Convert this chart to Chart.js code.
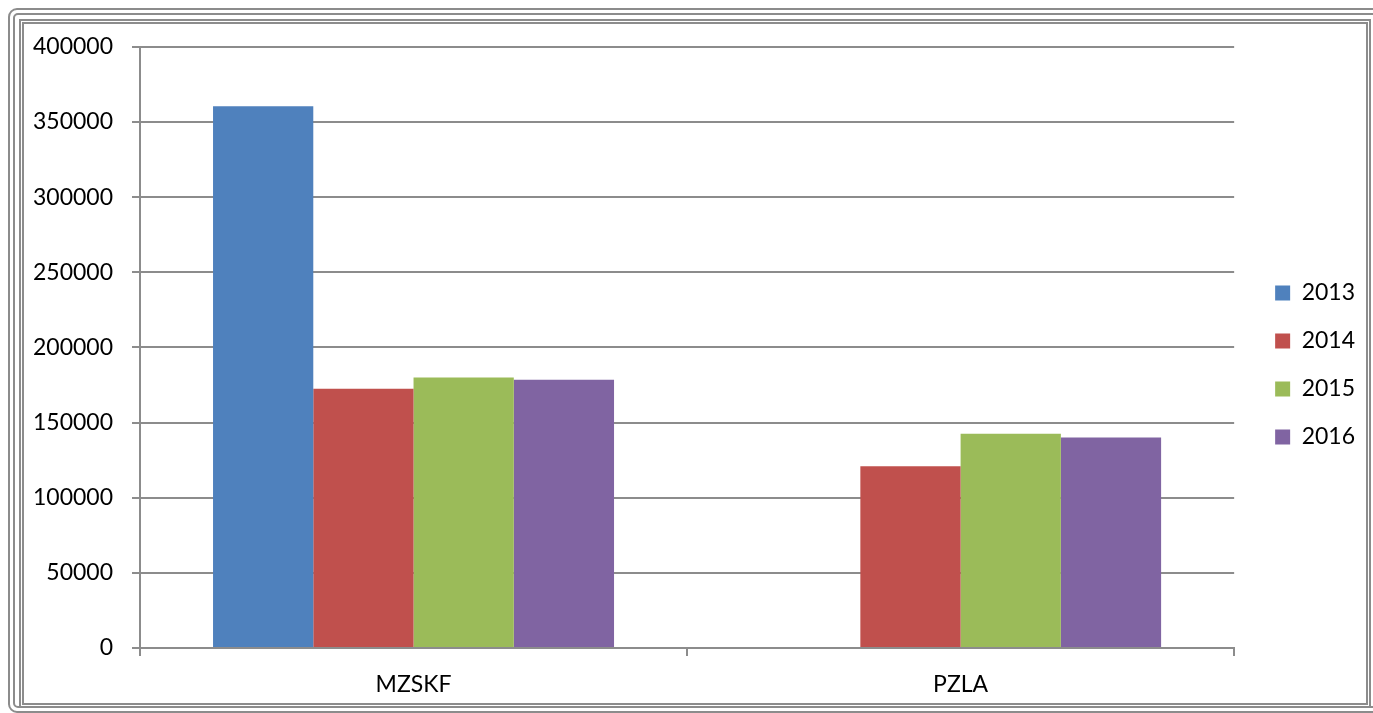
<!DOCTYPE html>
<html>
<head>
<meta charset="utf-8">
<script src="https://cdn.jsdelivr.net/npm/chart.js@4.4.1/dist/chart.umd.min.js"></script>
<style>
    html, body { margin: 0; padding: 0; background: #fff; overflow: hidden; }
    .frame { position: absolute; box-sizing: border-box; border: 2px solid #8c8c8c; }
    #chartBox { position: absolute; left: 24px; top: 14px; }
</style>
</head>
<body>
<div class="frame" style="left:8px;top:8px;width:1400px;height:705px;border-radius:9px;"></div>
<div class="frame" style="left:13px;top:13px;width:1400px;height:695px;border-radius:5px;"></div>
<div class="frame" style="left:19px;top:19px;width:1352px;height:689px;"></div>
<div class="frame" style="left:22px;top:22px;width:1346px;height:683px;"></div>
<div id="chartBox"><canvas id="barChart" width="1344" height="680"></canvas></div>
<script>
const CATEGORIES = ['MZSKF', 'PZLA'];
const YEARS = ['2013', '2014', '2015', '2016'];
const VALUES_2013 = [360500, null];
const VALUES_2014 = [172500, 121000];
const VALUES_2015 = [180000, 142500];
const VALUES_2016 = [178500, 140000];
const Y_TICKS = [0, 50000, 100000, 150000, 200000, 250000, 300000, 350000, 400000];

const COLORS = ['#4F81BD', '#C0504D', '#9BBB59', '#8064A2'];
const GRID = '#8c8c8c';
const FONT = {family: 'Lato, "Noto Sans", sans-serif', size: 23};

const series = [VALUES_2013, VALUES_2014, VALUES_2015, VALUES_2016];

const ctx = document.getElementById('barChart').getContext('2d');
new Chart(ctx, {
    type: 'bar',
    data: {
        labels: CATEGORIES,
        datasets: YEARS.map((year, i) => ({
            label: year,
            data: series[i],
            backgroundColor: COLORS[i],
            borderWidth: 0,
            categoryPercentage: 0.733,
            barPercentage: 1.0,
        }))
    },
    options: {
        responsive: false,
        animation: false,
        layout: {
            padding: {top: 22, right: 3, bottom: 0, left: 0}
        },
        scales: {
            x: {
                offset: true,
                grid: {
                    offset: true,
                    drawOnChartArea: false,
                    drawTicks: true,
                    tickLength: 8,
                    color: GRID,
                    lineWidth: 2,
                },
                border: {color: GRID, width: 2},
                ticks: {color: '#000', font: FONT, padding: 15},
                afterFit: (scale) => { scale.height = 46; }
            },
            y: {
                min: 0,
                max: 400000,
                afterBuildTicks: (scale) => {
                    scale.ticks = Y_TICKS.map(v => ({value: v}));
                },
                grid: {
                    color: GRID,
                    lineWidth: 2,
                    tickLength: 8,
                },
                border: {color: GRID, width: 2},
                ticks: {
                    color: '#000',
                    font: FONT,
                    padding: 19,
                    callback: (v) => String(v)
                },
                afterFit: (scale) => { scale.width = 116; }
            },
            // empty axis, only keeps a gap between the plot and the legend
            gap: {
                type: 'linear',
                axis: 'y',
                position: 'right',
                display: true,
                grid: {display: false},
                ticks: {display: false},
                border: {display: false},
                afterFit: (scale) => { scale.width = 16; }
            }
        },
        plugins: {
            legend: {
                position: 'right',
                labels: {
                    color: '#000',
                    font: {family: FONT.family, size: 23},
                    boxWidth: 15,
                    boxHeight: 15,
                    padding: 25,
                }
            },
            tooltip: {enabled: false}
        }
    }
});
</script>
</body>
</html>
